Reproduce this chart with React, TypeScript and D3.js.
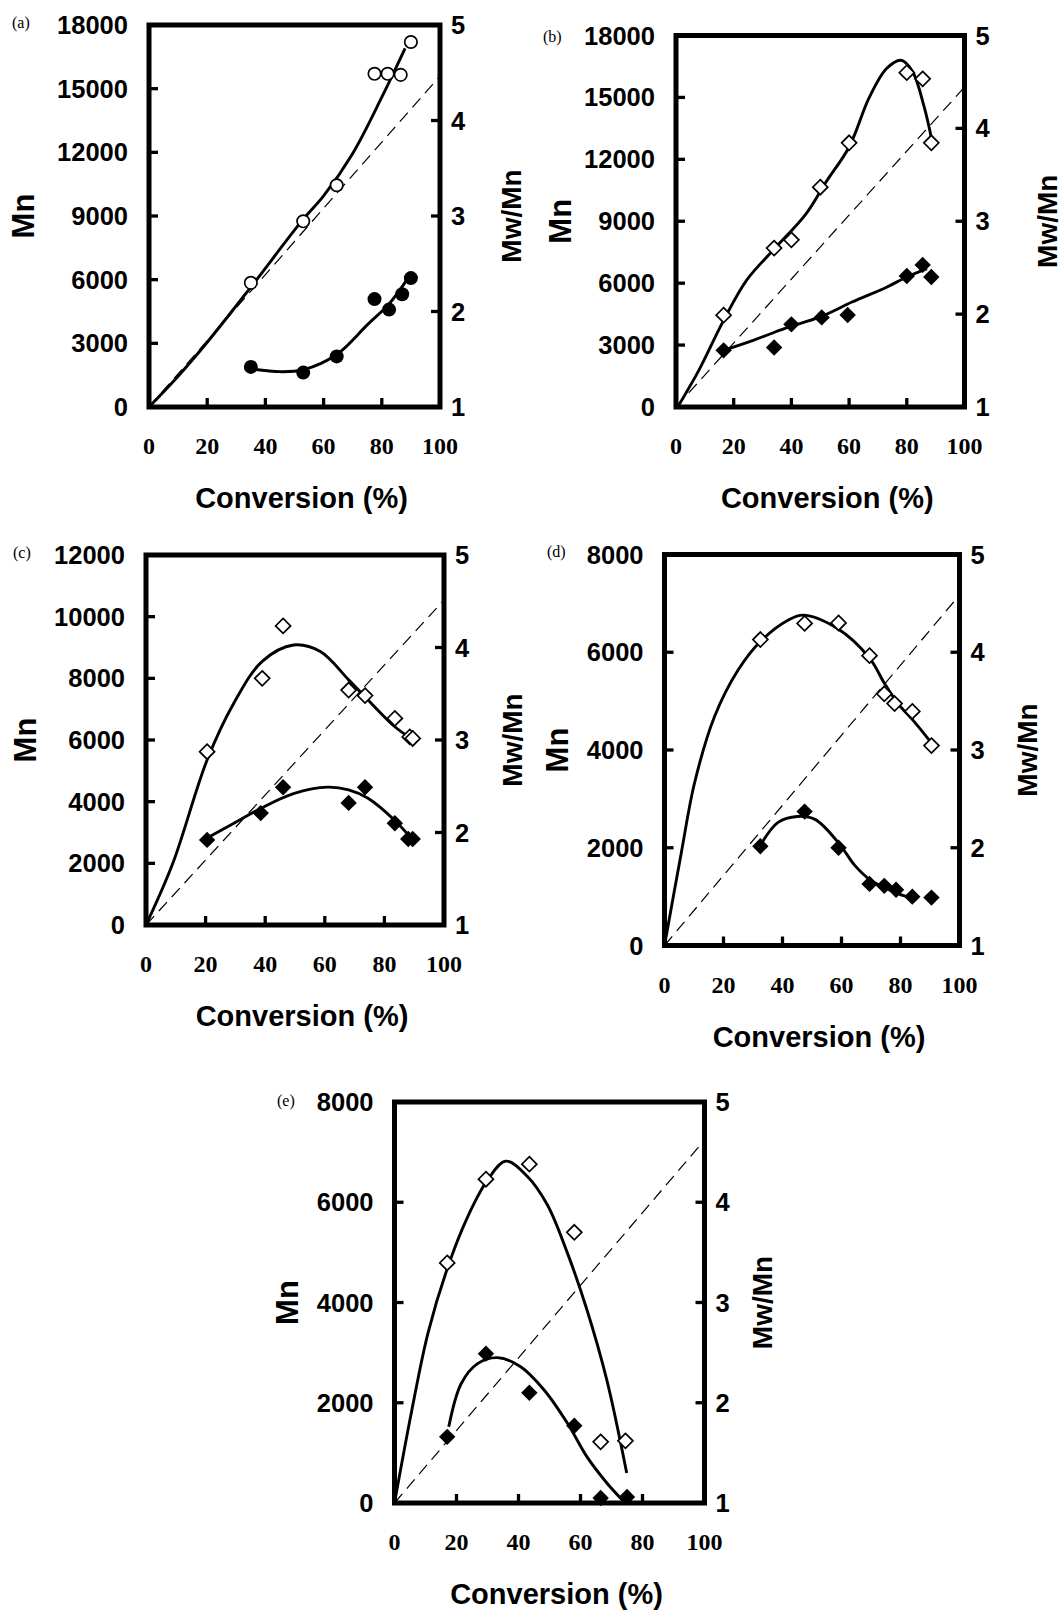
import React from "react";
import * as d3 from "d3";

type Pt = [number, number];

// shared axes
const conversionTicks = [0, 20, 40, 60, 80, 100];
const pdiTicks = [1, 2, 3, 4, 5];

// (a) Mn ticks and data
const aMnTicks = [0, 3000, 6000, 9000, 12000, 15000, 18000];
const aMn: Pt[] = [[35, 5850], [53, 8750], [64.5, 10450], [77.5, 15700], [82, 15700], [86.5, 15650], [90, 17200]];
const aPdi: Pt[] = [[35, 1.42], [53, 1.36], [64.5, 1.53], [77.5, 2.13], [82.5, 2.02], [87, 2.18], [90, 2.35]];
const aMnFit: Pt[] = [[0, 0], [10, 1450], [20, 3050], [35, 5650], [53, 8850], [60, 9950], [70, 11950], [80, 14600], [88, 16900]];
const aPdiFit: Pt[] = [[35, 1.40], [45, 1.37], [53, 1.39], [64.5, 1.55], [75, 1.86], [82.5, 2.08], [89, 2.35]];
const aTheory = 15600;

// (b)
const bMnTicks = [0, 3000, 6000, 9000, 12000, 15000, 18000];
const bMn: Pt[] = [[16.5, 4450], [34, 7700], [40, 8100], [50, 10650], [60, 12800], [80, 16200], [85.5, 15900], [88.5, 12800]];
const bPdi: Pt[] = [[16.5, 1.61], [34, 1.64], [40, 1.89], [50.5, 1.965], [59.5, 1.99], [80, 2.41], [85.5, 2.53], [88.5, 2.40]];
const bMnFit: Pt[] = [[1, 100], [8, 1800], [16.5, 4200], [24.5, 6150], [34, 7650], [45, 9350], [52, 10900], [60, 12600], [67, 15000], [73, 16400], [78, 16800], [82, 16250], [86, 14550], [88.5, 13050]];
const bPdiFit: Pt[] = [[16.5, 1.61], [27, 1.72], [38, 1.85], [50, 1.97], [61, 2.13], [73, 2.29], [80, 2.40], [87, 2.49]];
const bTheory = 15500;

// (c)
const cMnTicks = [0, 2000, 4000, 6000, 8000, 10000, 12000];
const cMn: Pt[] = [[20.5, 5620], [39, 8000], [46, 9700], [68, 7620], [73.5, 7440], [83.5, 6700], [88.5, 6100], [89.5, 6050]];
const cPdi: Pt[] = [[20.5, 1.92], [38.5, 2.21], [46, 2.49], [68, 2.32], [73.5, 2.49], [83.5, 2.10], [88, 1.93], [89.5, 1.93]];
const cMnFit: Pt[] = [[0, 0], [9, 2000], [20.5, 5350], [29.5, 7200], [39, 8550], [49.5, 9080], [58.5, 8870], [68, 7950], [74.5, 7300], [83.5, 6430], [89, 6050]];
const cPdiFit: Pt[] = [[20.5, 1.94], [29.5, 2.10], [38.5, 2.26], [49.5, 2.42], [61, 2.49], [68, 2.46], [74.5, 2.37], [83.5, 2.13], [88.5, 1.955]];
const cTheory = 10540;

// (d)
const dMnTicks = [0, 2000, 4000, 6000, 8000];
const dMn: Pt[] = [[32.5, 6260], [47.5, 6590], [59, 6600], [69.5, 5930], [74.5, 5150], [78, 4950], [84, 4790], [90.5, 4090]];
const dPdi: Pt[] = [[32.5, 2.015], [47.5, 2.37], [59, 2.0], [69.5, 1.63], [74.5, 1.61], [78.5, 1.57], [84, 1.50], [90.5, 1.49]];
const dMnFit: Pt[] = [[0, 0], [5.7, 1900], [10.2, 3330], [17, 4690], [25, 5640], [32.5, 6220], [42, 6660], [47, 6760], [58.5, 6490], [69.5, 5880], [74.5, 5370], [79, 4960], [84.5, 4590], [90, 4180]];
const dPdiFit: Pt[] = [[33, 2.05], [38.5, 2.26], [45, 2.32], [51, 2.29], [59, 2.05], [64.5, 1.82], [70, 1.665], [75.5, 1.58], [81, 1.51], [84.5, 1.49]];
const dTheory = 7170;

// (e)
const eMnTicks = [0, 2000, 4000, 6000, 8000];
const eMn: Pt[] = [[17, 4790], [29.5, 6460], [43.5, 6760], [58, 5400], [66.5, 1220], [74.5, 1240]];
const ePdi: Pt[] = [[17, 1.66], [29.5, 2.49], [43.5, 2.10], [58, 1.77], [66.5, 1.05], [75, 1.06]];
const eMnFit: Pt[] = [[0, 0], [5.4, 1790], [10.8, 3390], [17.2, 4710], [23.6, 5710], [30, 6440], [35.9, 6820], [42.8, 6520], [49.3, 5950], [55.7, 5000], [62.1, 3850], [68.5, 2450], [74.9, 600]];
const ePdiFit: Pt[] = [[17.5, 1.76], [21.5, 2.19], [26.8, 2.39], [33.2, 2.45], [40.7, 2.36], [48.2, 2.13], [55.7, 1.80], [62.1, 1.46], [68.5, 1.20], [73.8, 1.02]];
const eTheory = 7240;

const SANS = "'Liberation Sans', Arial, sans-serif";
const SERIF = "'Liberation Serif', 'Times New Roman', serif";

function diamond(x: number, y: number, h: number) {
  return `M${x},${y - h}L${x + h},${y}L${x},${y + h}L${x - h},${y}Z`;
}

function Panel(p: any) {
  const { tag, x0, y0, x1, y1, mnTicks, mn, pdi, mnFit, pdiFit, theory, marker, mnLabelX, pdiLabelX, tagX, tagY } = p;
  const x = d3.scaleLinear().domain([0, 100]).range([x0, x1]);
  const y = d3.scaleLinear().domain([0, mnTicks[mnTicks.length - 1]]).range([y1, y0]);
  const yr = d3.scaleLinear().domain([1, 5]).range([y1, y0]);
  const curve = d3.curveCatmullRom.alpha(0.5);
  const lineMn = d3.line<Pt>().x(d => x(d[0])).y(d => y(d[1])).curve(curve);
  const linePdi = d3.line<Pt>().x(d => x(d[0])).y(d => yr(d[1])).curve(curve);
  const midY = (y0 + y1) / 2;
  const midX = (x0 + x1) / 2;
  const tick = 9;

  return (
    <g>
      <text x={tagX} y={tagY} fontFamily={SERIF} fontSize={16}>{tag}</text>

      {/* theory line */}
      <line x1={x(0)} y1={y(0)} x2={x(100)} y2={y(theory)} stroke="#000" strokeWidth={1.2} strokeDasharray="12,7" />

      {/* fitted curves */}
      <path d={lineMn(mnFit) || ""} fill="none" stroke="#000" strokeWidth={2.9} />
      <path d={linePdi(pdiFit) || ""} fill="none" stroke="#000" strokeWidth={2.9} />

      {/* markers */}
      {mn.map((d: Pt, i: number) =>
        marker === "circle" ? (
          <circle key={"m" + i} cx={x(d[0])} cy={y(d[1])} r={6.2} fill="#fff" stroke="#000" strokeWidth={1.7} />
        ) : (
          <path key={"m" + i} d={diamond(x(d[0]), y(d[1]), 7.5)} fill="#fff" stroke="#000" strokeWidth={1.7} />
        )
      )}
      {pdi.map((d: Pt, i: number) =>
        marker === "circle" ? (
          <circle key={"p" + i} cx={x(d[0])} cy={yr(d[1])} r={7} fill="#000" />
        ) : (
          <path key={"p" + i} d={diamond(x(d[0]), yr(d[1]), 8.2)} fill="#000" />
        )
      )}

      {/* ticks */}
      {conversionTicks.slice(1, -1).map(t => (
        <line key={"xt" + t} x1={x(t)} x2={x(t)} y1={y1} y2={y1 - tick} stroke="#000" strokeWidth={3.3} />
      ))}
      {mnTicks.slice(1, -1).map((t: number) => (
        <line key={"yt" + t} x1={x0} x2={x0 + tick} y1={y(t)} y2={y(t)} stroke="#000" strokeWidth={3.3} />
      ))}
      {pdiTicks.slice(1, -1).map(t => (
        <line key={"rt" + t} x1={x1} x2={x1 - tick} y1={yr(t)} y2={yr(t)} stroke="#000" strokeWidth={3.3} />
      ))}

      {/* frame */}
      <rect x={x0} y={y0} width={x1 - x0} height={y1 - y0} fill="none" stroke="#000" strokeWidth={5} />

      {/* tick labels */}
      {conversionTicks.map(t => (
        <text key={"xl" + t} x={x(t)} y={y1 + 47} textAnchor="middle" fontFamily={SERIF} fontWeight="bold" fontSize={24}>{t}</text>
      ))}
      {mnTicks.map((t: number) => (
        <text key={"yl" + t} x={x0 - 21} y={y(t) + 9} textAnchor="end" fontFamily={SANS} fontWeight="bold" fontSize={25.5}>{t}</text>
      ))}
      {pdiTicks.map(t => (
        <text key={"rl" + t} x={x1 + 11} y={yr(t) + 9} fontFamily={SANS} fontWeight="bold" fontSize={25.5}>{t}</text>
      ))}

      {/* axis titles */}
      <text x={midX + 7} y={y1 + 101} textAnchor="middle" fontFamily={SANS} fontWeight="bold" fontSize={29}>Conversion (%)</text>
      <text transform={`translate(${mnLabelX},${midY}) rotate(-90)`} textAnchor="middle" dy="0.36em" fontFamily={SANS} fontWeight="bold" fontSize={31}>Mn</text>
      <text transform={`translate(${pdiLabelX},${midY}) rotate(-90)`} textAnchor="middle" dy="0.36em" fontFamily={SANS} fontWeight="bold" fontSize={28}>Mw/Mn</text>
    </g>
  );
}

const panels = [
  { tag: "(a)", x0: 149, y0: 25, x1: 440, y1: 407, mnTicks: aMnTicks, mn: aMn, pdi: aPdi, mnFit: aMnFit, pdiFit: aPdiFit, theory: aTheory, marker: "circle", mnLabelX: 23, pdiLabelX: 511, tagX: 12, tagY: 28 },
  { tag: "(b)", x0: 676, y0: 35.5, x1: 964.5, y1: 407, mnTicks: bMnTicks, mn: bMn, pdi: bPdi, mnFit: bMnFit, pdiFit: bPdiFit, theory: bTheory, marker: "diamond", mnLabelX: 560, pdiLabelX: 1047, tagX: 543, tagY: 42 },
  { tag: "(c)", x0: 146, y0: 555, x1: 444, y1: 925, mnTicks: cMnTicks, mn: cMn, pdi: cPdi, mnFit: cMnFit, pdiFit: cPdiFit, theory: cTheory, marker: "diamond", mnLabelX: 25, pdiLabelX: 512, tagX: 13, tagY: 558 },
  { tag: "(d)", x0: 664.5, y0: 554.5, x1: 959.5, y1: 945.5, mnTicks: dMnTicks, mn: dMn, pdi: dPdi, mnFit: dMnFit, pdiFit: dPdiFit, theory: dTheory, marker: "diamond", mnLabelX: 557, pdiLabelX: 1027, tagX: 547, tagY: 557 },
  { tag: "(e)", x0: 394.5, y0: 1102, x1: 704.5, y1: 1503, mnTicks: eMnTicks, mn: eMn, pdi: ePdi, mnFit: eMnFit, pdiFit: ePdiFit, theory: eTheory, marker: "diamond", mnLabelX: 287, pdiLabelX: 762, tagX: 277, tagY: 1106 },
];

export default function App() {
  return (
    <svg
      width={1063}
      height={1615}
      style={{ position: "absolute", left: 0, top: 0, background: "#fff" }}
    >
      <rect width={1063} height={1615} fill="#fff" />
      {panels.map(p => (
        <Panel key={p.tag} {...p} />
      ))}
    </svg>
  );
}
